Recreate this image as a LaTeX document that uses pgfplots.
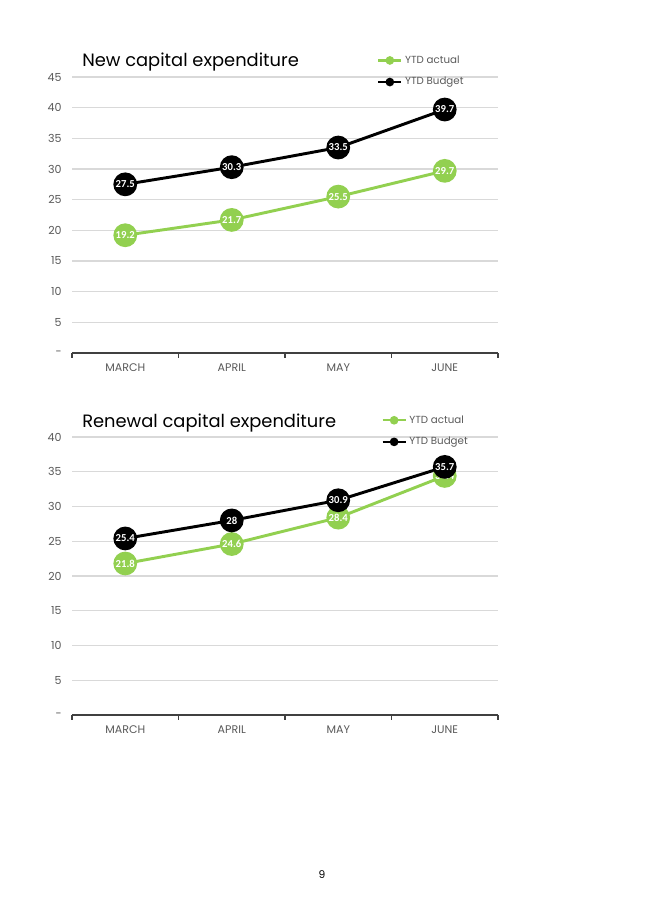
\documentclass[border=0pt]{standalone}
\usepackage{fontspec}
\setmainfont{Poppins}
\newfontfamily\lblfont{Carlito}
\usepackage{pgfplots}
\pgfplotsset{compat=1.18}
\definecolor{actgreen}{HTML}{92D050}
\definecolor{gridgray}{HTML}{D9D9D9}
\definecolor{txtgray}{HTML}{595959}
\definecolor{axgray}{HTML}{404040}

\pgfplotsset{capstyle/.style={
  scale only axis, width=319.5pt,
  xmin=-0.5, xmax=3.5, ymin=0,
  xtick={0,1,2,3}, xticklabels={MARCH,APRIL,MAY,JUNE},
  minor xtick={-0.5,0.5,1.5,2.5,3.5},
  major x tick style={draw=none},
  minor x tick style={axgray, line width=1pt},
  minor tick length=3.5pt,
  tick align=outside,
  axis x line*=bottom, axis y line*=left,
  x axis line style={axgray, line width=1.1pt, -},
  y axis line style={draw=none},
  ytick style={draw=none},
  ymajorgrids, grid style={gridgray, line width=0.8pt},
  tick label style={font=\fontsize{8.3}{10}\selectfont, text=txtgray},
  /pgf/number format/assume math mode=true,
  legend cell align=left,
  legend style={draw=none, fill=none, anchor=north west, inner sep=0pt,
    font=\fontsize{7.7}{9}\selectfont, text=txtgray, row sep=5pt},
  legend image code/.code={\draw[mark repeat=2,mark phase=2,##1, mark size=2.3pt, line width=1.8pt] plot coordinates {(0cm,0cm)(0.3cm,0cm)(0.6cm,0cm)};},
  every axis plot/.append style={line width=2.2pt, mark=*, mark size=7.8pt},
  nodes near coords,
  every node near coord/.append style={anchor=center, text=white, font=\lblfont\bfseries\fontsize{8}{9}\selectfont},
  clip=false,
}}

\begin{document}
\begin{tikzpicture}
\useasboundingbox (0,0) rectangle (483.75pt,-693pt);

\begin{axis}[capstyle, at={(54pt,-264.75pt)}, anchor=south west,
  height=207pt, ymax=45, ytick={0,5,...,45},
  yticklabels={-,5,10,15,20,25,30,35,40,45},
  legend style={at={(0.716,1.088)}}]
\addplot[actgreen, mark options={fill=actgreen}] coordinates {(0,19.2) (1,21.7) (2,25.5) (3,29.7)};
\addlegendentry{YTD actual}
\addplot[black, mark options={fill=black}] coordinates {(0,27.5) (1,30.3) (2,33.5) (3,39.7)};
\addlegendentry{YTD Budget}
\end{axis}
\node[anchor=base west, font=\fontsize{13.4}{16}\selectfont, text=black, inner sep=0pt] at (61.5pt,-50.25pt) {New capital expenditure};

\begin{axis}[capstyle, at={(54pt,-536.25pt)}, anchor=south west,
  height=208.5pt, ymax=40, ytick={0,5,...,40},
  yticklabels={-,5,10,15,20,25,30,35,40},
  legend style={at={(0.726,1.088)}}]
\addplot[actgreen, mark options={fill=actgreen}] coordinates {(0,21.8) (1,24.6) (2,28.4) (3,34.4)};
\addlegendentry{YTD actual}
\addplot[black, mark options={fill=black}] coordinates {(0,25.4) (1,28) (2,30.9) (3,35.7)};
\addlegendentry{YTD Budget}
\end{axis}
\node[anchor=base west, font=\fontsize{13.4}{16}\selectfont, text=black, inner sep=0pt] at (61.5pt,-320.25pt) {Renewal capital expenditure};

\node[font=\fontsize{8}{10}\selectfont, text=black] at (241.5pt,-656.25pt) {9};
\end{tikzpicture}
\end{document}
